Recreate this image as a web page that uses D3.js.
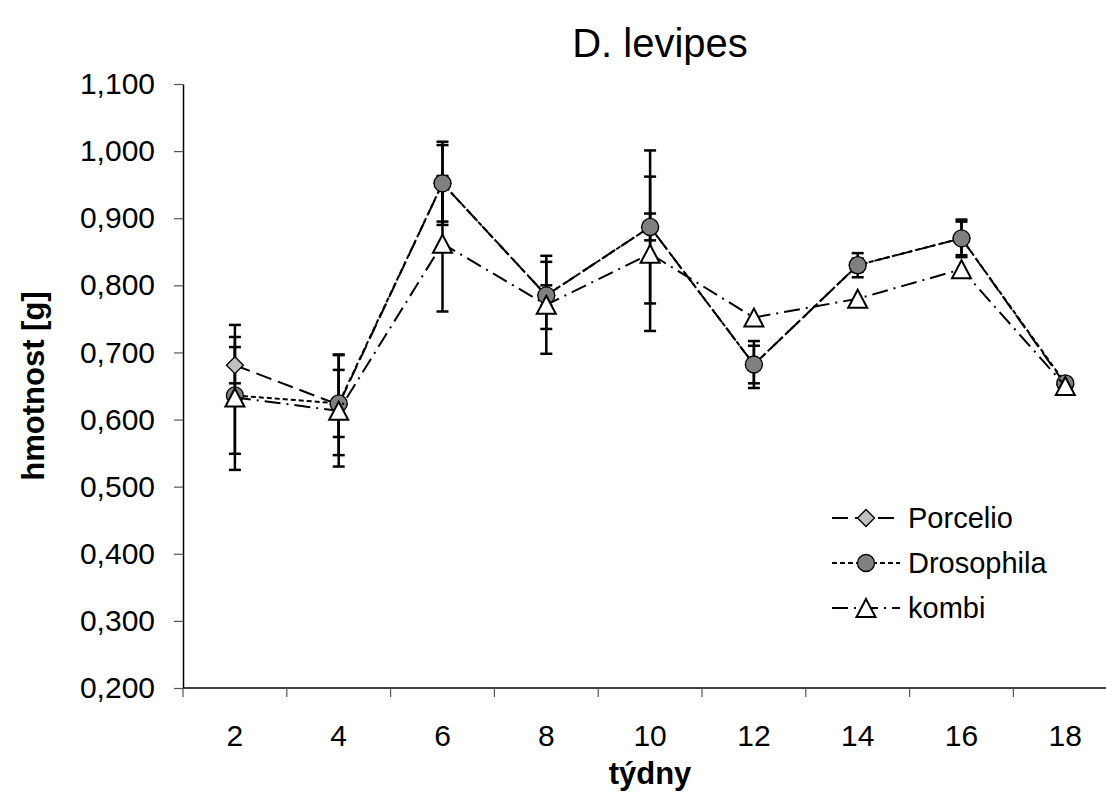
<!DOCTYPE html>
<html>
<head>
<meta charset="utf-8">
<script src="https://cdn.jsdelivr.net/npm/d3@7/dist/d3.min.js"></script>
<style>
	body { margin: 0; background: #fff; }
	svg { display: block; font-family: Arial, "Liberation Sans", sans-serif; }
</style>
</head>
<body>
<div id="chart"></div>
<script>
// data
var weeks = ["2", "4", "6", "8", "10", "12", "14", "16", "18"];
var yTicks = [0.2, 0.3, 0.4, 0.5, 0.6, 0.7, 0.8, 0.9, 1.0, 1.1];

var porcelio    = [0.681, 0.622, 0.952, 0.785, 0.887, 0.682, 0.830, 0.870, 0.652];
var porcelioErr = [0.027, 0.075, 0.062, 0.050, 0.114, 0.035, 0.018, 0.028, 0.005];
var drosophila    = [0.636, 0.624, 0.952, 0.785, 0.887, 0.682, 0.830, 0.870, 0.654];
var drosophilaErr = [0.087, 0.050, 0.057, 0.015, 0.020, 0.028, 0.010, 0.025, 0.005];
var kombi    = [0.633, 0.613, 0.862, 0.771, 0.847, 0.752, 0.780, 0.824, 0.650];
var kombiErr = [0.108, 0.083, 0.101, 0.073, 0.115, 0.000, 0.000, 0.000, 0.000];

var seriesNames = ["Porcelio", "Drosophila", "kombi"];

var W = 1106, H = 794;
var margin = { top: 84, left: 183, bottom: 106 };
var step = 103.8;

var series = [
	{ name: seriesNames[0], values: porcelio, err: porcelioErr, dash: "16,7", marker: "diamond", fill: "#c0c0c0" },
	{ name: seriesNames[1], values: drosophila, err: drosophilaErr, dash: "5,3", marker: "circle", fill: "#808080" },
	{ name: seriesNames[2], values: kombi, err: kombiErr, dash: "16,6,2,6", marker: "triangle", fill: "#ffffff" }
];

var svg = d3.select("#chart").append("svg")
	.attr("width", W)
	.attr("height", H)
	.style("overflow", "hidden");

var x = d3.scaleBand()
	.domain(weeks)
	.range([margin.left, margin.left + step * weeks.length])
	.padding(0);

var y = d3.scaleLinear()
	.domain([0.2, 1.1])
	.range([H - margin.bottom, margin.top]);

var fmt = d3.formatLocale({ decimal: ",", thousands: " ", grouping: [3], currency: ["", ""] }).format(".3f");

function cx(i) { return x(weeks[i]) + x.bandwidth() / 2; }

// y axis
var gy = svg.append("g")
	.attr("transform", "translate(" + margin.left + ",0)")
	.call(d3.axisLeft(y).tickValues(yTicks).tickFormat(fmt).tickSize(9).tickSizeOuter(0).tickPadding(19));
gy.select(".domain").attr("stroke", "#000").attr("stroke-width", 1.5);
gy.selectAll(".tick line").attr("stroke", "#555").attr("stroke-width", 1.2);
gy.selectAll("text").attr("font-size", 30).attr("fill", "#000").attr("font-family", "Arial, 'Liberation Sans', sans-serif");

// x axis: labels at centres, ticks at category borders
var gx = svg.append("g")
	.attr("transform", "translate(0," + y(0.2) + ")")
	.call(d3.axisBottom(x).tickSize(0).tickSizeOuter(0));
gx.select(".domain").attr("d", "M" + margin.left + ",0H" + W).attr("stroke", "#000").attr("stroke-width", 1.5);
gx.selectAll("text")
	.attr("y", 58).attr("dy", 0)
	.attr("font-size", 30).attr("fill", "#000").attr("font-family", "Arial, 'Liberation Sans', sans-serif");
gx.selectAll(".border")
	.data(weeks.concat(["end"]))
	.enter().append("line")
	.attr("class", "border")
	.attr("x1", function (d, i) { return margin.left + i * x.step(); })
	.attr("x2", function (d, i) { return margin.left + i * x.step(); })
	.attr("y1", 0).attr("y2", 9)
	.attr("stroke", "#555").attr("stroke-width", 1.2);

// error bars under everything else
var capW = 6;
series.forEach(function (s) {
	var g = svg.append("g").attr("class", "err");
	s.values.forEach(function (v, i) {
		var e = s.err[i];
		if (!e) { return; }
		var px = cx(i), top = y(v + e), bot = y(v - e);
		g.append("line").attr("x1", px).attr("x2", px).attr("y1", top).attr("y2", bot)
			.attr("stroke", "#000").attr("stroke-width", 2.5);
		[top, bot].forEach(function (py) {
			g.append("line").attr("x1", px - capW).attr("x2", px + capW).attr("y1", py).attr("y2", py)
				.attr("stroke", "#000").attr("stroke-width", 2.5);
		});
	});
});

var line = d3.line()
	.x(function (d, i) { return cx(i); })
	.y(function (d) { return y(d); });

function drawMarker(g, type, fill, px, py) {
	if (type === "diamond") {
		g.append("path")
			.attr("d", "M" + px + "," + (py - 8.5) + "L" + (px + 8.5) + "," + py + "L" + px + "," + (py + 8.5) + "L" + (px - 8.5) + "," + py + "Z")
			.attr("fill", fill).attr("stroke", "#000").attr("stroke-width", 1.3);
	}
	else if (type === "circle") {
		g.append("circle").attr("cx", px).attr("cy", py).attr("r", 8.5)
			.attr("fill", fill).attr("stroke", "#000").attr("stroke-width", 1.3);
	}
	else {
		g.append("path")
			.attr("d", "M" + px + "," + (py - 9) + "L" + (px + 9.5) + "," + (py + 9) + "L" + (px - 9.5) + "," + (py + 9) + "Z")
			.attr("fill", fill).attr("stroke", "#000").attr("stroke-width", 2);
	}
}

series.forEach(function (s) {
	var g = svg.append("g").attr("class", "series");
	g.append("path")
		.datum(s.values)
		.attr("d", line)
		.attr("fill", "none")
		.attr("stroke", "#000")
		.attr("stroke-width", 2)
		.attr("stroke-dasharray", s.dash);
	s.values.forEach(function (v, i) {
		drawMarker(g, s.marker, s.fill, cx(i), y(v));
	});
});

// title and axis titles
svg.append("text")
	.attr("x", 660).attr("y", 57)
	.attr("text-anchor", "middle")
	.attr("font-size", 40)
	.text("D. levipes");

svg.append("text")
	.attr("x", 650).attr("y", 784)
	.attr("text-anchor", "middle")
	.attr("font-size", 31).attr("font-weight", "bold")
	.text("týdny");

svg.append("text")
	.attr("transform", "translate(44," + ((y(1.1) + y(0.2)) / 2) + ") rotate(-90)")
	.attr("text-anchor", "middle")
	.attr("font-size", 31).attr("font-weight", "bold")
	.text("hmotnost [g]");

// legend
var legend = svg.append("g").attr("class", "legend");
series.forEach(function (s, i) {
	var ly = 518 + i * 45;
	legend.append("line")
		.attr("x1", 832).attr("x2", 900).attr("y1", ly).attr("y2", ly)
		.attr("stroke", "#000").attr("stroke-width", 2)
		.attr("stroke-dasharray", s.dash);
	drawMarker(legend, s.marker, s.fill, 866, ly);
	legend.append("text")
		.attr("x", 908).attr("y", ly).attr("dy", "0.35em")
		.attr("font-size", 29)
		.text(s.name);
});
</script>
</body>
</html>
